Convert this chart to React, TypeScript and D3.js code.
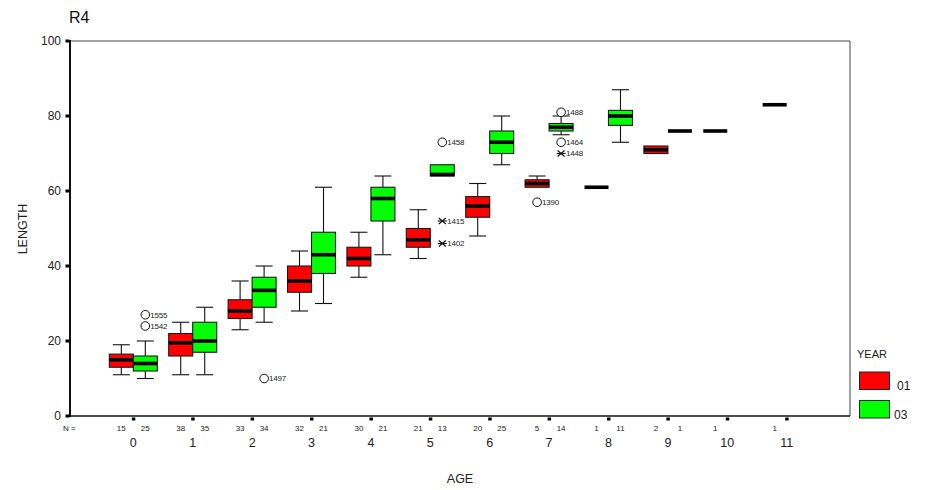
import React from "react";
import * as d3 from "d3";

const ages = ["0", "1", "2", "3", "4", "5", "6", "7", "8", "9", "10", "11"];
const years = ["01", "03"];
const yTicks = [0, 20, 40, 60, 80, 100];

const n01: (number | null)[] = [15, 38, 33, 32, 30, 21, 20, 5, 1, 2, 1, 1];
const n03: (number | null)[] = [25, 35, 34, 21, 21, 13, 25, 14, 11, 1, null, null];

const low01 = [11, 11, 23, 28, 37, 42, 48, 61, 61, 70, 76, 83];
const q1_01 = [13, 16, 26, 33, 40, 45, 53, 61, 61, 70, 76, 83];
const med01 = [15, 19.5, 28, 36, 42, 47, 56, 62, 61, 71, 76, 83];
const q3_01 = [16.5, 22, 31, 40, 45, 50, 58.5, 63, 61, 72, 76, 83];
const high01 = [19, 25, 36, 44, 49, 55, 62, 64, 61, 72, 76, 83];

const low03: (number | null)[] = [10, 11, 25, 30, 43, 64, 67, 75, 73, 76, null, null];
const q1_03: (number | null)[] = [12, 17, 29, 38, 52, 64, 70, 76, 77.5, 76, null, null];
const med03: (number | null)[] = [14, 20, 33.5, 43, 58, 64, 73, 77, 80, 76, null, null];
const q3_03: (number | null)[] = [16, 25, 37, 49, 61, 67, 76, 78, 81.5, 76, null, null];
const high03: (number | null)[] = [20, 29, 40, 61, 64, 67, 80, 80, 87, 76, null, null];

const outAge = ["0", "0", "2", "5", "5", "5", "7", "7", "7", "7"];
const outYear = ["03", "03", "03", "03", "03", "03", "01", "03", "03", "03"];
const outValue = [27, 24, 10, 73, 52, 46, 57, 81, 73, 70];
const outLabel = ["1555", "1542", "1497", "1458", "1415", "1402", "1390", "1488", "1464", "1448"];
const outKind = ["o", "o", "o", "o", "*", "*", "o", "o", "o", "*"];

const yearColors = ["#ff0000", "#00ff00"];

const FONT = "Arial, 'Liberation Sans', sans-serif";

export default function App() {
  const W = 927;
  const H = 490;
  const left = 70, right = 850, top = 41, bottom = 416;

  const x = d3.scalePoint<string>().domain(ages).range([left, right]).padding(1.066);
  const y = d3.scaleLinear().domain([0, 100]).range([bottom, top]);
  const xYear = d3.scaleBand<string>().domain(years).range([-24, 24]);
  const color = d3.scaleOrdinal<string, string>().domain(years).range(yearColors);
  const bw = xYear.bandwidth();
  const capW = 17;

  const series = [
    { year: "01", n: n01, low: low01 as (number | null)[], q1: q1_01 as (number | null)[], med: med01 as (number | null)[], q3: q3_01 as (number | null)[], high: high01 as (number | null)[] },
    { year: "03", n: n03, low: low03, q1: q1_03, med: med03, q3: q3_03, high: high03 },
  ];

  const boxes: React.ReactNode[] = [];
  series.forEach((s) => {
    ages.forEach((a, i) => {
      const med = s.med[i];
      if (med == null) return;
      const lo = s.low[i] as number, q1 = s.q1[i] as number, q3 = s.q3[i] as number, hi = s.high[i] as number;
      const x0 = (x(a) as number) + (xYear(s.year) as number);
      const cx = x0 + bw / 2;
      const key = s.year + "-" + a;
      const els: React.ReactNode[] = [];
      if (hi > q3) {
        els.push(<line key="wu" x1={cx} x2={cx} y1={y(q3)} y2={y(hi)} stroke="#111" strokeWidth={1.1} />);
        els.push(<line key="cu" x1={cx - capW / 2} x2={cx + capW / 2} y1={y(hi)} y2={y(hi)} stroke="#111" strokeWidth={1.1} />);
      }
      if (lo < q1) {
        els.push(<line key="wl" x1={cx} x2={cx} y1={y(q1)} y2={y(lo)} stroke="#111" strokeWidth={1.1} />);
        els.push(<line key="cl" x1={cx - capW / 2} x2={cx + capW / 2} y1={y(lo)} y2={y(lo)} stroke="#111" strokeWidth={1.1} />);
      }
      if (q3 > q1) {
        els.push(
          <rect key="b" x={x0} y={y(q3)} width={bw} height={y(q1) - y(q3)} fill={color(s.year)} stroke="#1a1a1a" strokeWidth={1.1} />
        );
      }
      const my = Math.min(Math.max(y(med), y(q3) + 1.5), q3 > q1 ? y(q1) - 1.5 : y(med));
      els.push(<line key="m" x1={x0} x2={x0 + bw} y1={my} y2={my} stroke="#000" strokeWidth={3.6} />);
      boxes.push(<g key={key}>{els}</g>);
    });
  });

  const outs = outValue.map((v, i) => {
    const cx = (x(outAge[i]) as number) + (xYear(outYear[i]) as number) + bw / 2;
    const cy = y(v);
    const mark =
      outKind[i] === "o" ? (
        <circle cx={cx} cy={cy} r={4.3} fill="#fff" stroke="#111" strokeWidth={1} />
      ) : (
        <g stroke="#111" strokeWidth={1.1}>
          <line x1={cx - 3.5} x2={cx + 3.5} y1={cy - 3} y2={cy + 3} />
          <line x1={cx - 3.5} x2={cx + 3.5} y1={cy + 3} y2={cy - 3} />
          <line x1={cx - 4.5} x2={cx + 4.5} y1={cy} y2={cy} />
        </g>
      );
    return (
      <g key={"o" + i}>
        {mark}
        <text x={cx + 5} y={cy} dy="0.35em" fontSize={8} fill="#222" fontFamily={FONT} letterSpacing={-0.2}>
          {outLabel[i]}
        </text>
      </g>
    );
  });

  const nLabels: React.ReactNode[] = [];
  series.forEach((s) => {
    ages.forEach((a, i) => {
      const n = s.n[i];
      if (n == null) return;
      const cx = (x(a) as number) + (xYear(s.year) as number) + bw / 2;
      nLabels.push(
        <text key={s.year + a} x={cx} y={431} textAnchor="middle" fontSize={8} fill="#222" fontFamily={FONT}>
          {n}
        </text>
      );
    });
  });

  return (
    <svg width={W} height={H} style={{ position: "absolute", left: 0, top: 0, background: "#fff" }} fontFamily={FONT}>
      <rect x={0} y={0} width={W} height={H} fill="#fff" />
      <text x={69} y={23} fontSize={16} fill="#111">R4</text>

      {/* frame */}
      <line x1={left} x2={right} y1={top} y2={top} stroke="#444" strokeWidth={1} />
      <line x1={right} x2={right} y1={top} y2={bottom} stroke="#444" strokeWidth={1} />
      <line x1={left} x2={left} y1={top - 1} y2={bottom + 1} stroke="#111" strokeWidth={2} />
      <line x1={left} x2={right} y1={bottom} y2={bottom} stroke="#111" strokeWidth={1.6} />

      {/* y ticks */}
      {yTicks.map((t) => (
        <g key={"y" + t}>
          <rect x={left - 4.5} y={y(t) - 1.5} width={4} height={3} fill="#000" />
          <text x={61} y={y(t)} dy="0.35em" textAnchor="end" fontSize={12} fill="#222">
            {t}
          </text>
        </g>
      ))}

      {/* x ticks */}
      {ages.map((a) => (
        <g key={"x" + a}>
          <rect x={(x(a) as number) - 1.5} y={bottom + 1.5} width={3.5} height={3} fill="#000" />
          <text x={x(a) as number} y={447} textAnchor="middle" fontSize={12.5} fill="#222">
            {a}
          </text>
        </g>
      ))}

      <text x={63} y={431} fontSize={8} fill="#222">N =</text>
      {nLabels}

      {boxes}
      {outs}

      <text x={460} y={483} textAnchor="middle" fontSize={12.5} fill="#222">AGE</text>
      <text transform={`translate(27,229) rotate(-90)`} textAnchor="middle" fontSize={12.5} fill="#222">
        LENGTH
      </text>

      {/* legend */}
      <text x={857} y={358} fontSize={11} fill="#222">YEAR</text>
      {years.map((yr, i) => (
        <g key={"lg" + yr}>
          <rect x={859.5} y={372 + i * 28.5} width={30} height={17.5} fill={color(yr)} stroke="#222" strokeWidth={1} />
          <text x={i === 0 ? 897 : 894} y={390 + i * 28.5} fontSize={12} fill="#222">
            {yr}
          </text>
        </g>
      ))}
    </svg>
  );
}
